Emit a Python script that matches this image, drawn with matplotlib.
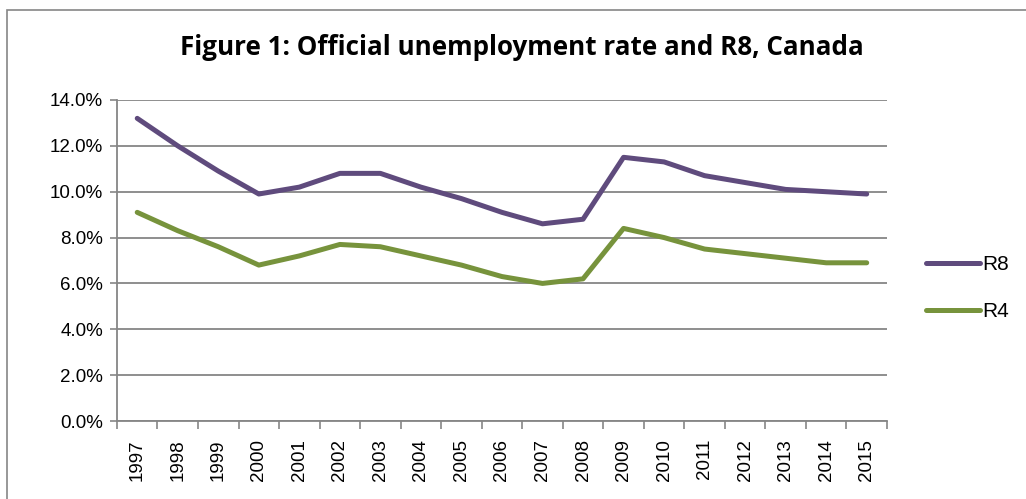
import numpy as np
import matplotlib.pyplot as plt
from matplotlib.patches import Rectangle

years = [str(y) for y in range(1997, 2016)]
r8 = [13.2, 12.0, 10.9, 9.9, 10.2, 10.8, 10.8, 10.2, 9.7, 9.1,
      8.6, 8.8, 11.5, 11.3, 10.7, 10.4, 10.1, 10.0, 9.9]
r4 = [9.1, 8.3, 7.6, 6.8, 7.2, 7.7, 7.6, 7.2, 6.8, 6.3,
      6.0, 6.2, 8.4, 8.0, 7.5, 7.3, 7.1, 6.9, 6.9]
yticks = [0, 2, 4, 6, 8, 10, 12, 14]

plt.rcParams['font.family'] = ['Liberation Sans', 'DejaVu Sans']

fig = plt.figure(figsize=(10.26, 4.99), dpi=100)
ax = fig.add_axes([0.114, 0.1563, 0.7505, 0.6433])

x = np.arange(len(years))
ax.plot(x, r8, color='#5F4B7D', lw=3.6, solid_capstyle='round', label='R8', zorder=3)
ax.plot(x, r4, color='#77933C', lw=3.6, solid_capstyle='round', label='R4', zorder=3)

ax.set_xlim(-0.5, len(years) - 0.5)
ax.set_ylim(0, 14)
ax.set_yticks(yticks)
ax.set_yticklabels([f'{v:.1f}%' for v in yticks], fontsize=13.5)
ax.set_xticks(x)
ax.set_xticklabels(years, rotation=90, fontsize=13.5)
ax.set_xticks(np.arange(-0.5, len(years), 1), minor=True)
ax.tick_params(axis='x', which='major', length=0, pad=13)
ax.tick_params(axis='x', which='minor', length=6, color='#868686', width=1.2)
ax.tick_params(axis='y', length=5, color='#868686', width=1.2, pad=5)

ax.grid(axis='y', color='#868686', lw=1.3)
ax.set_axisbelow(True)
for s in ['top', 'right']:
    ax.spines[s].set_visible(False)
for s in ['left', 'bottom']:
    ax.spines[s].set_color('#868686')
    ax.spines[s].set_linewidth(1.3)

fig.text(0.509, 0.904, 'Figure 1: Official unemployment rate and R8, Canada',
         ha='center', va='center', fontsize=18.7, fontweight='bold',
         family=['Open Sans', 'DejaVu Sans'])

fig.legend(loc='center left', bbox_to_anchor=(0.884, 0.422), frameon=False,
           fontsize=15, handlelength=2.6, handletextpad=0.1, labelspacing=1.35)

fig.add_artist(Rectangle((0.007, -0.1), 1.2, 1.08, transform=fig.transFigure,
                         fill=False, edgecolor='#868686', lw=1.2))

fig.savefig('out.png', dpi=100)
